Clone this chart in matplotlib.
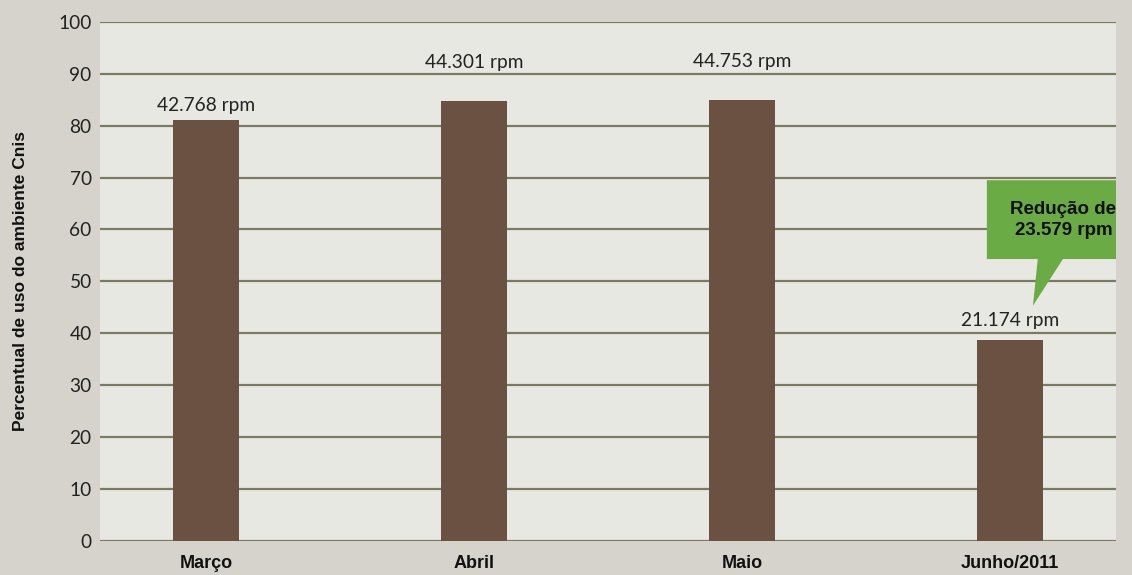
import matplotlib
matplotlib.use("Agg")
import matplotlib.pyplot as plt
from matplotlib.patches import Polygon

categories = ["Março", "Abril", "Maio", "Junho/2011"]
values = [81.1, 84.7, 84.9, 38.7]
value_labels = ["42.768 rpm", "44.301 rpm", "44.753 rpm", "21.174 rpm"]
label_offsets_pt = [4, 22, 22, 8]
yticks = [0, 10, 20, 30, 40, 50, 60, 70, 80, 90, 100]
callout_text = "Redução de\n23.579 rpm"

reg = ["Lato", "DejaVu Sans"]
bold = ["Liberation Sans", "DejaVu Sans"]

fig = plt.figure(figsize=(11.32, 5.75), dpi=100)
fig.patch.set_facecolor("#d6d3cc")
ax = fig.add_axes([100/1132, (575-540.7)/575, 1016/1132, (540.7-22)/575])
ax.set_facecolor("#e8e8e3")

x = list(range(len(categories)))
ax.set_axisbelow(True)
ax.yaxis.grid(True, color="#7b7b62", linewidth=1.6)
bars = ax.bar(x, values, width=0.246, color="#6b5142", zorder=3)

for b, lab, off in zip(bars, value_labels, label_offsets_pt):
    ax.annotate(lab, (b.get_x() + b.get_width()/2, b.get_height()),
                xytext=(0, off), textcoords="offset points",
                ha="center", va="bottom", fontsize=13.8, color="#222222",
                family=reg)

ax.set_xlim(-0.396, 3.396)
ax.set_ylim(0, 100)
ax.set_yticks(yticks)
ax.set_xticks(x)
ax.set_xticklabels(categories, fontsize=13, fontweight="bold", family=bold, color="#111111")
for t in ax.get_yticklabels():
    t.set_fontsize(13.8)
    t.set_family(reg)
    t.set_color("#222222")
ax.tick_params(axis="both", length=0)
ax.tick_params(axis="y", pad=6)
ax.tick_params(axis="x", pad=10)
for s in ax.spines.values():
    s.set_visible(False)

ax.set_ylabel("Percentual de uso do ambiente Cnis", fontsize=12.5, fontweight="bold",
              family=bold, color="#111111", labelpad=22)

# callout
poly = Polygon([(2.914, 69.5), (3.396, 69.5), (3.396, 54.3), (3.198, 54.3),
                (3.086, 45.3), (3.104, 54.3), (2.914, 54.3)],
               closed=True, facecolor="#6aab45", edgecolor="none", zorder=4, clip_on=False)
ax.add_patch(poly)
ax.text(3.2, 61.8, callout_text, ha="center", va="center", fontsize=13.5,
        fontweight="bold", family=bold, color="#111111", zorder=5, linespacing=1.35)

fig.savefig("out.png", dpi=100, facecolor=fig.get_facecolor())
